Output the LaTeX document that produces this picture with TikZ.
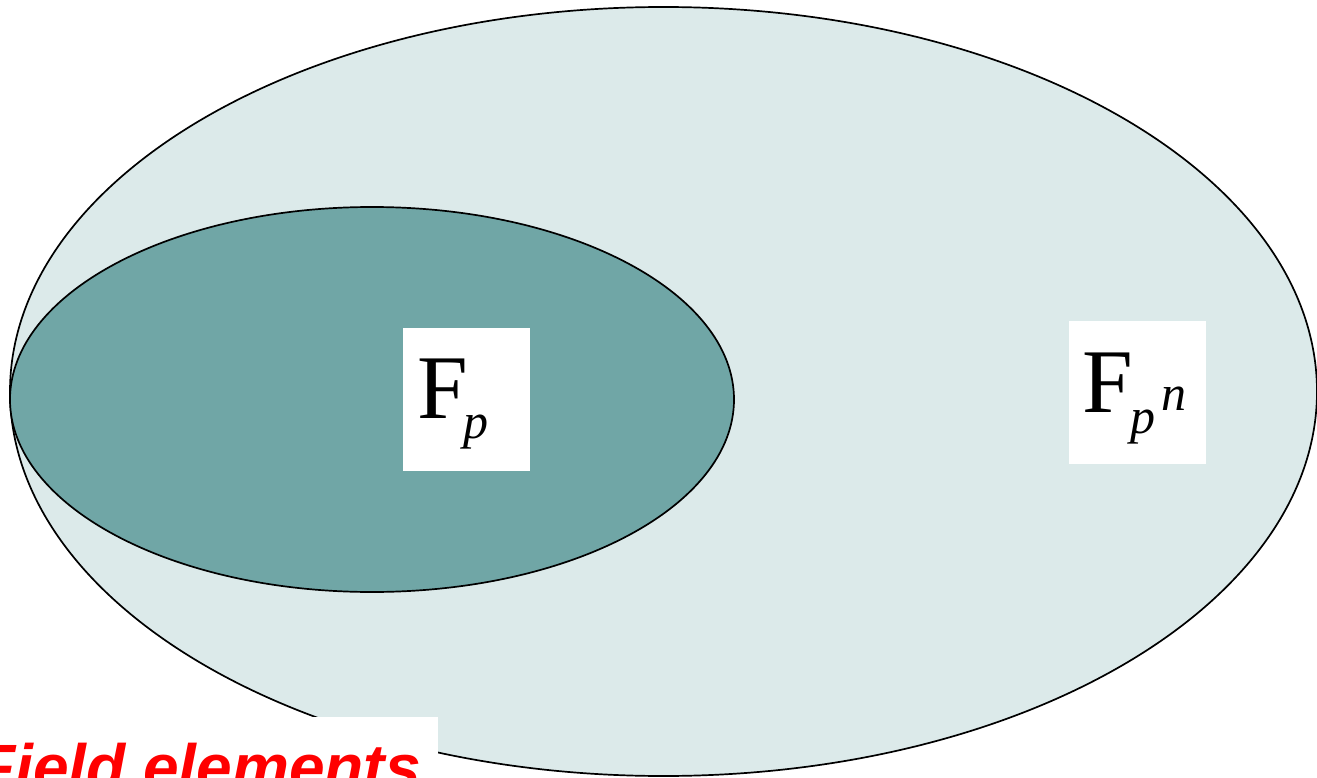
\documentclass[tikz,border=0pt]{standalone}
\usepackage{fontspec}
\setmainfont{Liberation Serif}
\newfontfamily\arialfont{Liberation Sans}
\definecolor{outerfill}{RGB}{220,234,234}
\definecolor{innerfill}{RGB}{112,166,166}
\definecolor{labelred}{RGB}{255,0,0}
\begin{document}
\begin{tikzpicture}[x=1pt,y=-1pt,
  setline/.style={draw=black,line width=1.7pt},
  whitebox/.style={fill=white,draw=none,inner sep=0pt,minimum width=#1},
  bigF/.style={inner sep=0pt,anchor=base west,font=\fontsize{91}{91}\selectfont},
  smallsym/.style={inner sep=0pt,anchor=base west,font=\fontsize{50}{50}\selectfont\itshape},
]
\useasboundingbox (0,0) rectangle (1317,778);
% outer set F_{p^n}
\draw[setline,fill=outerfill] (663.5,391.5) ellipse [x radius=653.5pt, y radius=384.5pt];
% inner set F_p
\draw[setline,fill=innerfill] (372,399.5) ellipse [x radius=362pt, y radius=192.5pt];
% label boxes
\node[whitebox=127pt,minimum height=143pt] (fpbox) at (466.5,399) {};
\node[whitebox=137pt,minimum height=143pt] (fpnbox) at (1137.5,392.5) {};
\node[whitebox=498pt,minimum height=83pt] (febox) at (189,758.5) {};
% F_p
\node[bigF] (fpF) at (417,418) {F};
\node[smallsym] (fpp) at (463,438) {p};
% F_{p^n}
\node[bigF] (fpnF) at (1082,412) {F};
\node[smallsym] (fpnp) at (1130,433) {p};
\node[smallsym] (fpnn) at (1161,410) {n};
% Field elements
\node[inner sep=0pt,anchor=base east,text=labelred,font=\arialfont\bfseries\itshape\fontsize{64}{64}\selectfont] (fe) at (421,789) {Field elements};
\end{tikzpicture}
\end{document}
